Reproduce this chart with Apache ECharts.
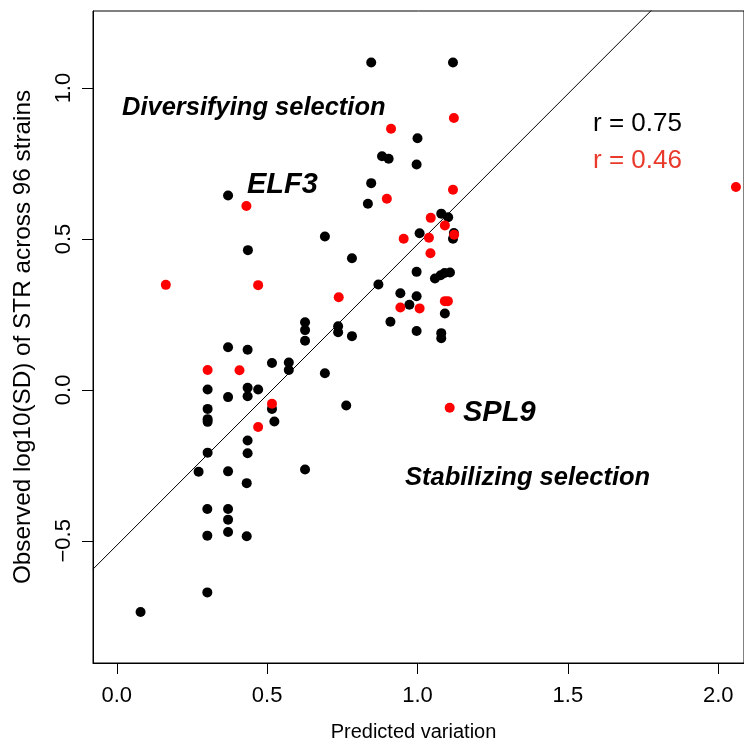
<!DOCTYPE html>
<html>
<head>
<meta charset="utf-8">
<script src="https://cdn.jsdelivr.net/npm/echarts@6/dist/echarts.min.js"></script>
<style>
  html, body { margin: 0; padding: 0; background: #fff; }
  #chart { width: 744px; height: 747px; }
</style>
</head>
<body>
<div id="chart"></div>
<script>
// All STRs: predicted variation vs observed log10(SD) across 96 strains
const allX = [0.079, 0.301, 0.301, 0.370, 0.370, 0.370, 0.301, 0.432, 0.432, 0.272,
              0.370, 0.302, 0.435, 0.435, 0.302, 0.302, 0.302, 0.302, 0.370, 0.435,
              0.435, 0.470, 0.516, 0.524, 0.370, 0.435, 0.516, 0.572, 0.572, 0.626,
              0.626, 0.626, 0.626, 0.692, 0.763, 0.736, 0.736, 0.782, 0.692, 0.782,
              0.870, 0.910, 0.943, 0.973, 0.997, 0.997, 0.997, 1.058, 1.077, 1.090,
              1.108, 1.079, 1.079, 1.091, 1.007, 1.121, 1.118, 1.079, 1.102, 0.997,
              1.000, 0.882, 0.904, 0.846, 0.835, 0.846, 1.118, 0.370, 0.436];
const allY = [-0.736, -0.671, -0.395, -0.395, -0.430, -0.471, -0.483, -0.485, -0.309, -0.271,
              -0.270, -0.208, -0.210, -0.168, -0.097, -0.106, -0.063, 0.001, -0.024, 0.007,
              -0.021, 0.001, -0.063, -0.105, 0.141, 0.133, 0.089, 0.091, 0.066, 0.224,
              0.198, 0.163, -0.264, 0.055, -0.052, 0.211, 0.191, 0.178, 0.508, 0.436,
              0.349, 0.226, 0.320, 0.282, 0.310, 0.195, 0.391, 0.369, 0.380, 0.387,
              0.389, 0.188, 0.171, 0.253, 0.519, 0.520, 0.501, 0.584, 0.572, 0.747,
              0.834, 0.774, 0.766, 0.685, 0.617, 1.085, 1.085, 0.644, 0.463];

// Highlighted subset (red)
const redX = [0.163, 0.302, 0.408, 0.431, 0.470, 0.470, 0.516, 0.738, 0.912, 0.898,
              1.121, 1.118, 1.044, 1.091, 1.038, 0.954, 1.122, 1.043, 0.943, 1.007,
              1.091, 1.101, 1.107, 2.059];
const redY = [0.348, 0.066, 0.065, 0.609, 0.347, -0.123, -0.046, 0.307, 0.865, 0.633,
              0.901, 0.663, 0.570, 0.545, 0.504, 0.501, 0.514, 0.453, 0.273, 0.270,
              0.294, 0.294, -0.059, 0.672];

// Least-squares fit line for all STRs
const fitIntercept = -0.515;
const fitSlope = 0.997;

const xTicks = [0, 0.5, 1, 1.5, 2];
const yTicks = [-0.5, 0, 0.5, 1];

const xRange = [-0.0792, 2.0858];
const yRange = [-0.905, 1.2554];

const FONT = '"Liberation Sans", Arial, Helvetica, sans-serif';
const fmt = v => v.toFixed(1).replace('-', '\u2212');

const pairs = (xs, ys) => xs.map((x, i) => [x, ys[i]]);
const fitLine = xRange.map(x => [x, fitIntercept + fitSlope * x]);

const chart = echarts.init(document.getElementById('chart'), null, { renderer: 'canvas' });

chart.setOption({
  backgroundColor: '#fff',
  animation: false,
  grid: {
    left: 93, top: 11, width: 656, height: 654,
    show: true, borderColor: '#000', borderWidth: 1, backgroundColor: 'transparent'
  },
  xAxis: {
    type: 'value', min: xRange[0], max: xRange[1],
    splitLine: { show: false },
    axisLine: { show: true, onZero: false, lineStyle: { color: '#000', width: 1 } },
    axisTick: { show: true, length: 11, customValues: xTicks, lineStyle: { color: '#000', width: 1 } },
    axisLabel: { customValues: xTicks, formatter: fmt, margin: 22, color: '#000', fontSize: 22, fontFamily: FONT },
    name: 'Predicted variation', nameLocation: 'middle', nameGap: 59,
    nameTextStyle: { color: '#000', fontSize: 20, fontFamily: FONT, padding: [0, 10, 0, 0] }
  },
  yAxis: {
    type: 'value', min: yRange[0], max: yRange[1],
    splitLine: { show: false },
    axisLine: { show: true, onZero: false, lineStyle: { color: '#000', width: 1 } },
    axisTick: { show: true, length: 11, customValues: yTicks, lineStyle: { color: '#000', width: 1 } },
    axisLabel: { customValues: yTicks, formatter: fmt, rotate: 90, margin: 18, color: '#000', fontSize: 22, fontFamily: FONT },
    name: 'Observed log10(SD) of STR across 96 strains', nameLocation: 'middle', nameGap: 58, nameRotate: 90,
    nameTextStyle: { color: '#000', fontSize: 24.3, fontFamily: FONT }
  },
  series: [
    {
      type: 'line', data: fitLine, symbol: 'none', silent: true, clip: true, z: 1,
      lineStyle: { color: '#000', width: 1 }
    },
    {
      type: 'scatter', data: pairs(allX, allY), symbol: 'circle', symbolSize: 10, z: 2,
      itemStyle: { color: '#000', opacity: 1 }
    },
    {
      type: 'scatter', data: pairs(redX, redY), symbol: 'circle', symbolSize: 10, z: 3,
      itemStyle: { color: '#ff0000', opacity: 1 }
    }
  ],
  graphic: [
    { type: 'text', left: 122, top: 95, style: { text: 'Diversifying selection', fill: '#000', font: `italic bold 25.5px ${FONT}` } },
    { type: 'text', left: 247, top: 170, style: { text: 'ELF3', fill: '#000', font: `italic bold 29px ${FONT}` } },
    { type: 'text', left: 463, top: 398, style: { text: 'SPL9', fill: '#000', font: `italic bold 29px ${FONT}` } },
    { type: 'text', left: 405, top: 465, style: { text: 'Stabilizing selection', fill: '#000', font: `italic bold 25.5px ${FONT}` } },
    { type: 'text', left: 593, top: 111, style: { text: 'r = 0.75', fill: '#000', font: `26px ${FONT}` } },
    { type: 'text', left: 593, top: 148, style: { text: 'r = 0.46', fill: '#e8392b', font: `26px ${FONT}` } }
  ]
});
</script>
</body>
</html>
